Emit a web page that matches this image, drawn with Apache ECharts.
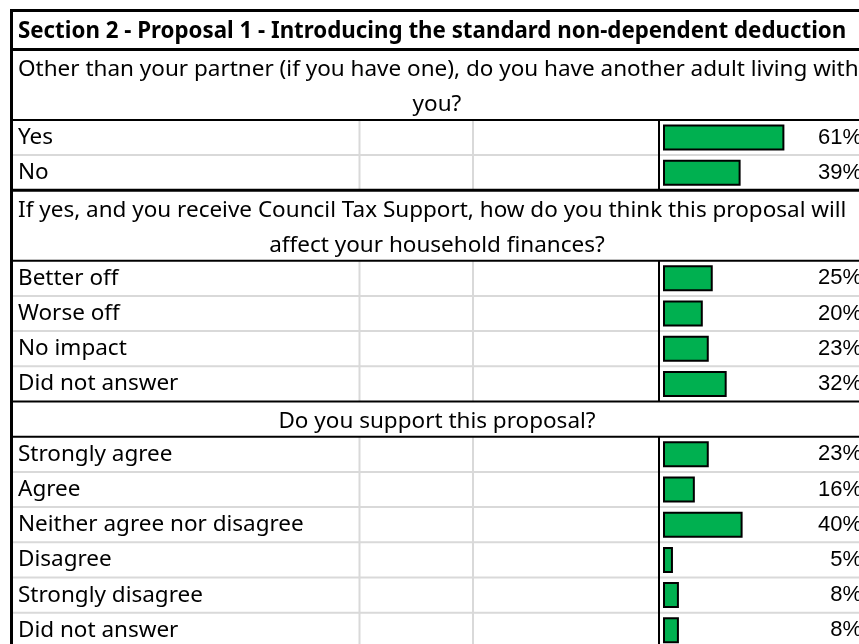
<!DOCTYPE html>
<html>
<head>
<meta charset="utf-8">
<script src="https://cdn.jsdelivr.net/npm/echarts@6/dist/echarts.min.js"></script>
<style>
  html, body { margin: 0; padding: 0; background: #fff; }
  #chart { width: 859px; height: 644px; }
</style>
</head>
<body>
<div id="chart"></div>
<script>
// survey text + results
const sectionTitle = 'Section 2 - Proposal 1 - Introducing the standard non-dependent deduction'
const q1Lines = ['Other than your partner (if you have one), do you have another adult living with', 'you?']
const q1Labels = ['Yes', 'No']
const q1Values = [61, 39]
const q2Lines = ['If yes, and you receive Council Tax Support, how do you think this proposal will', 'affect your household finances?']
const q2Labels = ['Better off', 'Worse off', 'No impact', 'Did not answer']
const q2Values = [25, 20, 23, 32]
const q3Lines = ['Do you support this proposal?']
const q3Labels = ['Strongly agree', 'Agree', 'Neither agree nor disagree', 'Disagree', 'Strongly disagree', 'Did not answer']
const q3Values = [23, 16, 40, 5, 8, 8]

// sheet geometry
const ROW_H = 35.2
const TOP = 10.5
const TITLE_H = 39
const X_LEFT = 11.5
const X_RIGHT = 880
const TEXT_X = 18
const MID_X = 437
const GRAY_COLS = [359.5, 473]
const BAR_COL = 659
const BAR_X0 = 663
const BAR_SPAN = 199
const FONT = '"Noto Sans"'
const FONT_SIZE = 22.5
const TITLE_SIZE = 22.3

const sections = [
  { lines: q1Lines, labels: q1Labels, values: q1Values },
  { lines: q2Lines, labels: q2Labels, values: q2Values },
  { lines: q3Lines, labels: q3Labels, values: q3Values }
]

const hLine = (y, w, color, z) => ({
  type: 'line', z: z, silent: true,
  shape: { x1: X_LEFT, y1: y, x2: X_RIGHT, y2: y },
  style: { stroke: color, lineWidth: w }
})
const vLine = (x, y1, y2, w, color, z) => ({
  type: 'line', z: z, silent: true,
  shape: { x1: x, y1: y1, x2: x, y2: y2 },
  style: { stroke: color, lineWidth: w }
})
const label = (x, y, text, align, bold) => ({
  type: 'text', z: 20, silent: true, x: x, y: y,
  style: {
    text: text, fill: '#000',
    font: (bold ? 'bold ' + TITLE_SIZE : FONT_SIZE) + 'px ' + FONT,
    textAlign: align, textVerticalAlign: 'middle'
  }
})

const graphics = []
const grids = []
const xAxes = []
const yAxes = []
const series = []

graphics.push(hLine(TOP, 3, '#000', 10))
graphics.push(label(TEXT_X, TOP + TITLE_H / 2 + 2, sectionTitle, 'left', true))
let y = TOP + TITLE_H
graphics.push(hLine(y, 3, '#000', 10))

sections.forEach((s, i) => {
  s.lines.forEach((t, j) => {
    const cy = y + (j + 0.5) * ROW_H + 2.5
    if (s.lines.length > 1 && j === 0) graphics.push(label(TEXT_X, cy, t, 'left', false))
    else graphics.push(label(MID_X, cy, t, 'center', false))
  })
  y += s.lines.length * ROW_H
  const rowsTop = y
  const rowsBottom = y + s.labels.length * ROW_H
  for (let k = 1; k < s.labels.length; k++) {
    graphics.push(hLine(rowsTop + k * ROW_H, 2, '#d9d9d9', 1))
  }
  GRAY_COLS.forEach(x => graphics.push(vLine(x, rowsTop, rowsBottom, 2, '#d9d9d9', 2)))
  graphics.push(vLine(BAR_COL, rowsTop, rowsBottom, 2, '#000', 3))
  graphics.push(hLine(rowsTop, 2, '#000', 10))
  graphics.push(hLine(rowsBottom, i === 0 ? 3 : 2, '#000', 10))

  grids.push({ left: BAR_X0, top: rowsTop, width: BAR_SPAN, height: rowsBottom - rowsTop, containLabel: false, outerBoundsMode: 'none' })
  xAxes.push({ gridIndex: i, type: 'value', min: 0, max: 100, show: false })
  yAxes.push({
    gridIndex: i, type: 'category', data: s.labels, inverse: true,
    axisLine: { show: false }, axisTick: { show: false }, splitLine: { show: false },
    axisLabel: {
      interval: 0, align: 'left', margin: BAR_X0 - TEXT_X,
      fontFamily: FONT, fontSize: FONT_SIZE, color: '#000', padding: [8, 0, 0, 0]
    }
  })
  yAxes.push({
    gridIndex: i, type: 'category', position: 'right', inverse: true,
    data: s.values.map(v => v + '%'),
    axisLine: { show: false }, axisTick: { show: false }, splitLine: { show: false },
    axisLabel: {
      interval: 0, align: 'right', margin: 0,
      fontFamily: '"Liberation Sans"', fontSize: 22, color: '#000', padding: [8, 0, 0, 0]
    }
  })
  series.push({
    type: 'bar', xAxisIndex: i, yAxisIndex: i * 2,
    data: s.values, barWidth: 26, silent: true,
    itemStyle: { color: '#00B050', borderColor: '#000', borderWidth: 2 }
  })
  y = rowsBottom
})

graphics.push(vLine(X_LEFT, TOP - 1.5, 660, 3, '#000', 11))

const chart = echarts.init(document.getElementById('chart'))
chart.setOption({
  animation: false,
  backgroundColor: '#fff',
  grid: grids,
  xAxis: xAxes,
  yAxis: yAxes,
  series: series,
  graphic: { elements: graphics }
})
</script>
</body>
</html>
